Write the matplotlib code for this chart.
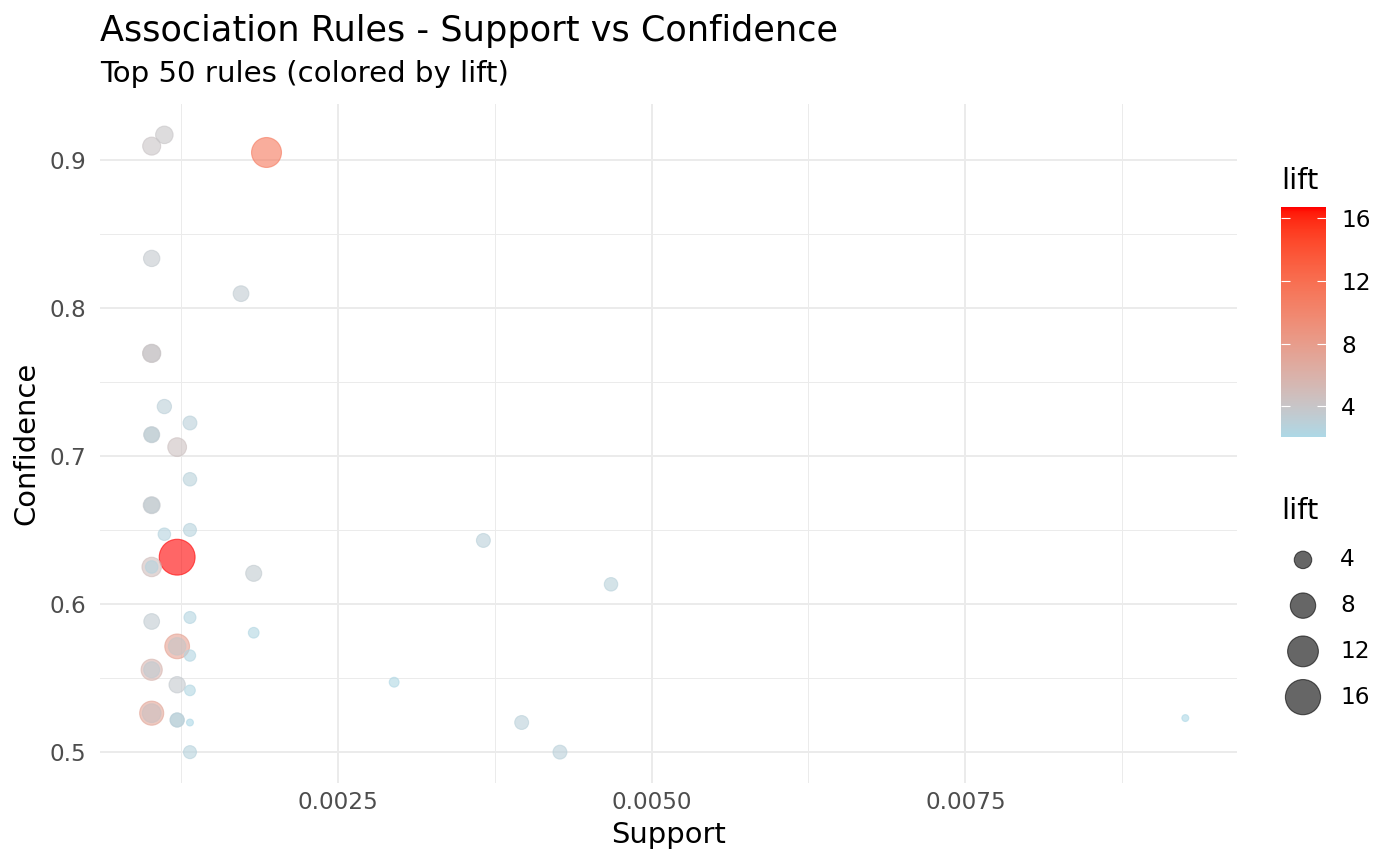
import numpy as np
import matplotlib
matplotlib.use("Agg")
import matplotlib.pyplot as plt
from matplotlib.colors import ListedColormap, Normalize

# ---------------- data ----------------
support = [0.001017, 0.001118, 0.001932, 0.001017, 0.001729,
           0.001017, 0.001017, 0.001118, 0.001322, 0.001017,
           0.001017, 0.001220, 0.001322, 0.001017, 0.001017,
           0.001322, 0.001118, 0.001220, 0.001017, 0.001017,
           0.001830, 0.003660, 0.004677, 0.001017, 0.001322,
           0.001830, 0.001220, 0.001220, 0.001322, 0.001017,
           0.001017, 0.002949, 0.001220, 0.001322, 0.001017,
           0.001017, 0.001220, 0.001220, 0.001322, 0.003965,
           0.009253, 0.001322, 0.004270]
confidence = [0.9091, 0.9167, 0.9048, 0.8333, 0.8095,
              0.7692, 0.7692, 0.7333, 0.7222, 0.7143,
              0.7143, 0.7059, 0.6842, 0.6667, 0.6667,
              0.6500, 0.6471, 0.6316, 0.6250, 0.6250,
              0.6207, 0.6429, 0.6133, 0.5882, 0.5909,
              0.5806, 0.5714, 0.5714, 0.5652, 0.5556,
              0.5556, 0.5472, 0.5455, 0.5417, 0.5263,
              0.5263, 0.5217, 0.5217, 0.5200, 0.5200,
              0.5230, 0.5000, 0.5000]
lift = [4.2, 4.0, 11.3, 3.6, 3.4,
        4.3, 4.0, 3.0, 2.9, 3.5,
        3.2, 4.5, 2.8, 3.8, 3.4,
        2.7, 2.6, 16.7, 4.8, 2.6,
        3.5, 2.9, 2.8, 3.4, 2.5,
        2.3, 7.6, 4.0, 2.4, 5.6,
        3.5, 2.2, 3.6, 2.3, 7.2,
        4.5, 3.0, 2.9, 2.05, 2.9,
        2.05, 2.7, 2.9]

x_ticks = [0.0025, 0.0050, 0.0075]
x_tick_labels = ["0.0025", "0.0050", "0.0075"]
y_ticks = [0.5, 0.6, 0.7, 0.8, 0.9]
y_tick_labels = ["0.5", "0.6", "0.7", "0.8", "0.9"]
lift_breaks = [4, 8, 12, 16]

title = "Association Rules - Support vs Confidence"
subtitle = "Top 50 rules (colored by lift)"

# ---------------- colour scale: lightblue -> red in Lab ----------------
def srgb_to_lab(rgb):
    rgb = np.asarray(rgb, float)
    lin = np.where(rgb <= 0.04045, rgb / 12.92, ((rgb + 0.055) / 1.055) ** 2.4)
    M = np.array([[0.4124, 0.3576, 0.1805],
                  [0.2126, 0.7152, 0.0722],
                  [0.0193, 0.1192, 0.9505]])
    xyz = lin @ M.T
    wp = np.array([0.95047, 1.0, 1.08883])
    r = xyz / wp
    f = np.where(r > 0.008856, np.cbrt(r), 7.787 * r + 16 / 116)
    L = 116 * f[..., 1] - 16
    a = 500 * (f[..., 0] - f[..., 1])
    b = 200 * (f[..., 1] - f[..., 2])
    return np.stack([L, a, b], -1)

def lab_to_srgb(lab):
    L, a, b = lab[..., 0], lab[..., 1], lab[..., 2]
    fy = (L + 16) / 116
    fx = fy + a / 500
    fz = fy - b / 200
    def inv(f):
        return np.where(f ** 3 > 0.008856, f ** 3, (f - 16 / 116) / 7.787)
    wp = np.array([0.95047, 1.0, 1.08883])
    xyz = np.stack([inv(fx), inv(fy), inv(fz)], -1) * wp
    Minv = np.array([[3.2406, -1.5372, -0.4986],
                     [-0.9689, 1.8758, 0.0415],
                     [0.0557, -0.2040, 1.0570]])
    lin = xyz @ Minv.T
    lin = np.clip(lin, 0, 1)
    rgb = np.where(lin <= 0.0031308, 12.92 * lin, 1.055 * lin ** (1 / 2.4) - 0.055)
    return np.clip(rgb, 0, 1)

low = np.array([173, 216, 230]) / 255.0   # lightblue
high = np.array([255, 0, 0]) / 255.0      # red
lab_lo, lab_hi = srgb_to_lab(low), srgb_to_lab(high)
tt = np.linspace(0, 1, 256)[:, None]
cmap = ListedColormap(lab_to_srgb(lab_lo + (lab_hi - lab_lo) * tt))

lift_arr = np.array(lift)
lmin, lmax = lift_arr.min(), lift_arr.max()
norm = Normalize(vmin=lmin, vmax=lmax)

DPI = 100
def diam_px(v):
    t = (np.asarray(v, float) - lmin) / (lmax - lmin)
    return 8 + 29 * np.sqrt(np.clip(t, 0, 1))

EDGE_PT = 0.8
def area_pt2(v):
    d_pt = diam_px(v) * 72.0 / DPI - EDGE_PT
    return d_pt ** 2

# text sizes (pt)
BASE = 20.9
SMALL = 16.7
TITLE = 25.3

# ---------------- figure ----------------
plt.rcParams["font.family"] = ["DejaVu Sans"]
fig = plt.figure(figsize=(14, 8.66), dpi=DPI)
fig.patch.set_facecolor("white")

W, H = 1400.0, 866.0
PX_L, PX_R, PX_T, PX_B = 100, 1237, 104, 783
ax = fig.add_axes([PX_L / W, 1 - PX_B / H, (PX_R - PX_L) / W, (PX_B - PX_T) / H])

sup = np.array(support)
conf = np.array(confidence)
xr = sup.max() - sup.min()
yr = conf.max() - conf.min()
ax.set_xlim(sup.min() - 0.05 * xr, sup.max() + 0.05 * xr)
ax.set_ylim(conf.min() - 0.05 * yr, conf.max() + 0.05 * yr)

# grid
grid_c = "#EBEBEB"
for v in x_ticks:
    ax.axvline(v, color=grid_c, lw=1.4, zorder=0)
for v in y_ticks:
    ax.axhline(v, color=grid_c, lw=1.4, zorder=0)
xminor = [x_ticks[0] - 0.00125] + [v + 0.00125 for v in x_ticks]
yminor = [v + 0.05 for v in y_ticks[:-1]]
for v in xminor:
    ax.axvline(v, color=grid_c, lw=0.7, zorder=0)
for v in yminor:
    ax.axhline(v, color=grid_c, lw=0.7, zorder=0)

cols = cmap(norm(lift_arr))
ax.scatter(sup, conf, s=area_pt2(lift_arr), c=cols, alpha=0.6,
           edgecolors=cols, linewidths=EDGE_PT, zorder=3)

ax.set_xticks(x_ticks)
ax.set_xticklabels(x_tick_labels)
ax.set_yticks(y_ticks)
ax.set_yticklabels(y_tick_labels)
ax.tick_params(axis="both", length=0, labelsize=SMALL, labelcolor="#4D4D4D")
ax.tick_params(axis="y", pad=10)
ax.tick_params(axis="x", pad=6)
for s in ax.spines.values():
    s.set_visible(False)
ax.set_xlabel("Support", fontsize=BASE)
ax.set_ylabel("Confidence", fontsize=BASE)
ax.xaxis.set_label_coords(0.5, (PX_B - 835) / (PX_B - PX_T))
ax.xaxis.label.set_va("center")
ax.yaxis.set_label_coords((26 - PX_L) / (PX_R - PX_L), 0.5)
ax.yaxis.label.set_va("center")

fig.text(100 / W, 1 - 41 / H, title, fontsize=TITLE, ha="left", va="baseline")
fig.text(100 / W, 1 - 82 / H, subtitle, fontsize=21.1, ha="left", va="baseline")

# ---------------- colour bar ----------------
cax = fig.add_axes([1281 / W, 1 - 437 / H, 45 / W, (437 - 207) / H])
sm = plt.cm.ScalarMappable(norm=norm, cmap=cmap)
cb = fig.colorbar(sm, cax=cax)
cb.outline.set_visible(False)
cb.set_ticks(lift_breaks)
cb.set_ticklabels([str(b) for b in lift_breaks])
cax.tick_params(direction="in", length=6.5, width=0.8, colors="white",
                labelcolor="black", labelsize=SMALL, left=True, right=True, pad=11)
fig.text(1281 / W, 1 - 189 / H, "lift", fontsize=BASE, ha="left", va="baseline")

# ---------------- size legend ----------------
lax = fig.add_axes([1270 / W, 1 - 720 / H, 110 / W, (720 - 537) / H])
lax.set_xlim(0, 110)
lax.set_ylim(len(lift_breaks), 0)
lax.axis("off")
pos = np.arange(len(lift_breaks)) + 0.5
lax.scatter(np.full(len(lift_breaks), 33), pos, s=area_pt2(lift_breaks),
            color="black", alpha=0.6, edgecolors="black", linewidths=EDGE_PT,
            clip_on=False)
for p, b in zip(pos, lift_breaks):
    lax.text(70, p, str(b), fontsize=SMALL, ha="left", va="center")
fig.text(1281 / W, 1 - 519 / H, "lift", fontsize=BASE, ha="left", va="baseline")

fig.savefig("out.png", dpi=DPI, facecolor="white")
